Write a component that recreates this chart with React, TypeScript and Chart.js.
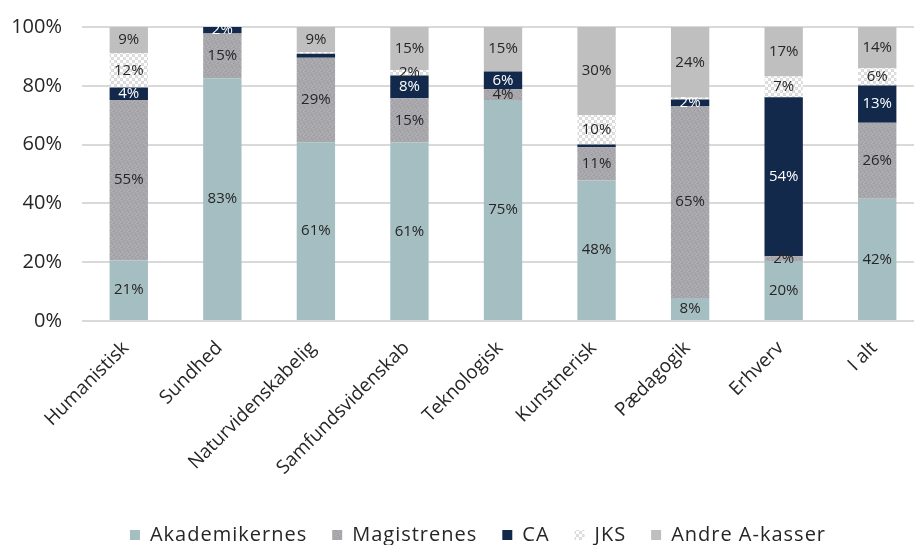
import React, { useEffect, useRef } from "react";
import { Chart, registerables } from "chart.js";

Chart.register(...registerables);

const categories = [
  "Humanistisk",
  "Sundhed",
  "Naturvidenskabelig",
  "Samfundsvidenskab",
  "Teknologisk",
  "Kunstnerisk",
  "Pædagogik",
  "Erhverv",
  "I alt",
];

const akademikernes = [20.6, 82.6, 60.8, 60.7, 75.2, 47.8, 7.8, 20.4, 41.6];
const magistrenes = [54.6, 15.2, 28.7, 15.1, 3.6, 11.3, 65.3, 1.6, 25.8];
const ca = [4.2, 2.2, 1.4, 7.7, 6.1, 0.9, 2.2, 54.1, 12.7];
const jks = [11.7, 0, 0.5, 1.9, 0, 10.0, 0.6, 7.1, 5.9];
const andre = [8.9, 0, 8.6, 14.6, 15.1, 30.0, 24.1, 16.8, 14.0];

const yTicks = [0, 20, 40, 60, 80, 100];

const seriesNames = ["Akademikernes", "Magistrenes", "CA", "JKS", "Andre A-kasser"];

function makeMagPattern(): CanvasPattern | string {
  const c = document.createElement("canvas");
  c.width = 8;
  c.height = 8;
  const g = c.getContext("2d");
  if (!g) return "#A8A7AB";
  g.fillStyle = "#A8A7AB";
  g.fillRect(0, 0, 8, 8);
  const light = "#B4B3B7";
  const dark = "#9C9BA0";
  const spotsL = [[1, 0], [5, 1], [2, 3], [6, 4], [0, 6], [4, 6], [7, 7], [3, 5]];
  const spotsD = [[3, 1], [7, 2], [0, 3], [4, 4], [2, 6], [6, 6], [5, 0], [1, 7]];
  g.fillStyle = light;
  spotsL.forEach(([x, y]) => g.fillRect(x, y, 1, 1));
  g.fillStyle = dark;
  spotsD.forEach(([x, y]) => g.fillRect(x, y, 1, 1));
  return g.createPattern(c, "repeat") || "#A8A7AB";
}

function makeJksPattern(): CanvasPattern | string {
  const c = document.createElement("canvas");
  c.width = 6;
  c.height = 6;
  const g = c.getContext("2d");
  if (!g) return "#E6E6E6";
  g.fillStyle = "#FFFFFF";
  g.fillRect(0, 0, 6, 6);
  g.fillStyle = "#DADADA";
  g.fillRect(0, 0, 3, 3);
  g.fillRect(3, 3, 3, 3);
  g.fillStyle = "#E8E8E8";
  g.fillRect(1, 1, 1, 1);
  g.fillRect(4, 4, 1, 1);
  return g.createPattern(c, "repeat") || "#E6E6E6";
}

const labelPlugin = {
  id: "segmentLabels",
  afterDatasetsDraw(chart: any) {
    const ctx = chart.ctx;
    ctx.save();
    ctx.font = "15px 'Open Sans'";
    ctx.textAlign = "center";
    ctx.textBaseline = "middle";
    chart.data.datasets.forEach((ds: any, i: number) => {
      const meta = chart.getDatasetMeta(i);
      meta.data.forEach((bar: any, j: number) => {
        const v = ds.data[j] as number;
        if (v < 1.5) return;
        const y = (bar.y + bar.base) / 2;
        ctx.fillStyle = i === 2 ? "#FFFFFF" : "#262626";
        ctx.fillText(Math.round(v) + "%", bar.x, y);
      });
    });
    ctx.restore();
  },
};

const LEGEND_SHIFT = 16;

const legendTweakPlugin = {
  id: "legendTweak",
  beforeLayout(chart: any) {
    const leg = chart.legend;
    if (!leg || leg._tweaked) return;
    leg._tweaked = true;
    const origFit = leg.fit.bind(leg);
    const origDraw = leg.draw.bind(leg);
    leg.fit = function () {
      const ctx = chart.ctx;
      const prev = ctx.letterSpacing;
      ctx.letterSpacing = "1px";
      origFit();
      ctx.letterSpacing = prev || "0px";
    };
    leg.draw = function () {
      const ctx = chart.ctx;
      const prev = ctx.letterSpacing;
      ctx.letterSpacing = "1px";
      leg.left += LEGEND_SHIFT;
      leg.right += LEGEND_SHIFT;
      origDraw();
      leg.left -= LEGEND_SHIFT;
      leg.right -= LEGEND_SHIFT;
      ctx.letterSpacing = prev || "0px";
    };
  },
};

export default function App() {
  const ref = useRef<HTMLCanvasElement | null>(null);

  useEffect(() => {
    document.body.style.overflow = "hidden";
    if (!ref.current) return;
    Chart.defaults.font.family = "'Open Sans'";
    Chart.defaults.color = "#262626";
    const magPat = makeMagPattern();
    const jksPat = makeJksPattern();
    const colors: any[] = ["#A5BEC1", magPat, "#13294B", jksPat, "#BFBFBF"];
    const values = [akademikernes, magistrenes, ca, jks, andre];
    const chart = new Chart(ref.current, {
      type: "bar",
      data: {
        labels: categories,
        datasets: seriesNames.map((name, i) => ({
          label: name,
          data: values[i],
          backgroundColor: colors[i],
          borderWidth: 0,
          barPercentage: 0.41,
          categoryPercentage: 1,
        })),
      },
      options: {
        animation: false,
        responsive: false,
        maintainAspectRatio: false,
        layout: { padding: { left: 0, top: 27, right: 0, bottom: -10 } },
        plugins: {
          legend: {
            position: "bottom",
            labels: {
              boxWidth: 10,
              boxHeight: 10,
              padding: 25,
              font: { size: 20 },
              color: "#262626",
            },
          },
          tooltip: { enabled: false },
        },
        scales: {
          x: {
            stacked: true,
            grid: { display: false },
            border: { display: false },
            ticks: {
              maxRotation: 45,
              minRotation: 45,
              font: { size: 19 },
              color: "#262626",
              padding: 8,
              labelOffset: -3,
            },
            afterFit(scale: any) {
              scale.height = 179;
            },
          },
          y: {
            stacked: true,
            min: 0,
            max: 100,
            afterBuildTicks(scale: any) {
              scale.ticks = yTicks.map((v) => ({ value: v }));
            },
            grid: { color: "#D9D9D9", lineWidth: 2, drawTicks: false },
            border: { display: false },
            ticks: {
              font: { size: 20 },
              color: "#262626",
              padding: 20,
              callback: (v: any) => v + "%",
            },
            afterFit(scale: any) {
              scale.width = 82;
              scale.paddingTop = 0;
              scale.paddingBottom = 0;
            },
          },
        },
      },
      plugins: [labelPlugin, legendTweakPlugin],
    });
    return () => chart.destroy();
  }, []);

  return (
    <div style={{ position: "absolute", left: 0, top: 0, width: 924, height: 545 }}>
      <canvas ref={ref} width={924} height={545} style={{ display: "block" }} />
    </div>
  );
}
